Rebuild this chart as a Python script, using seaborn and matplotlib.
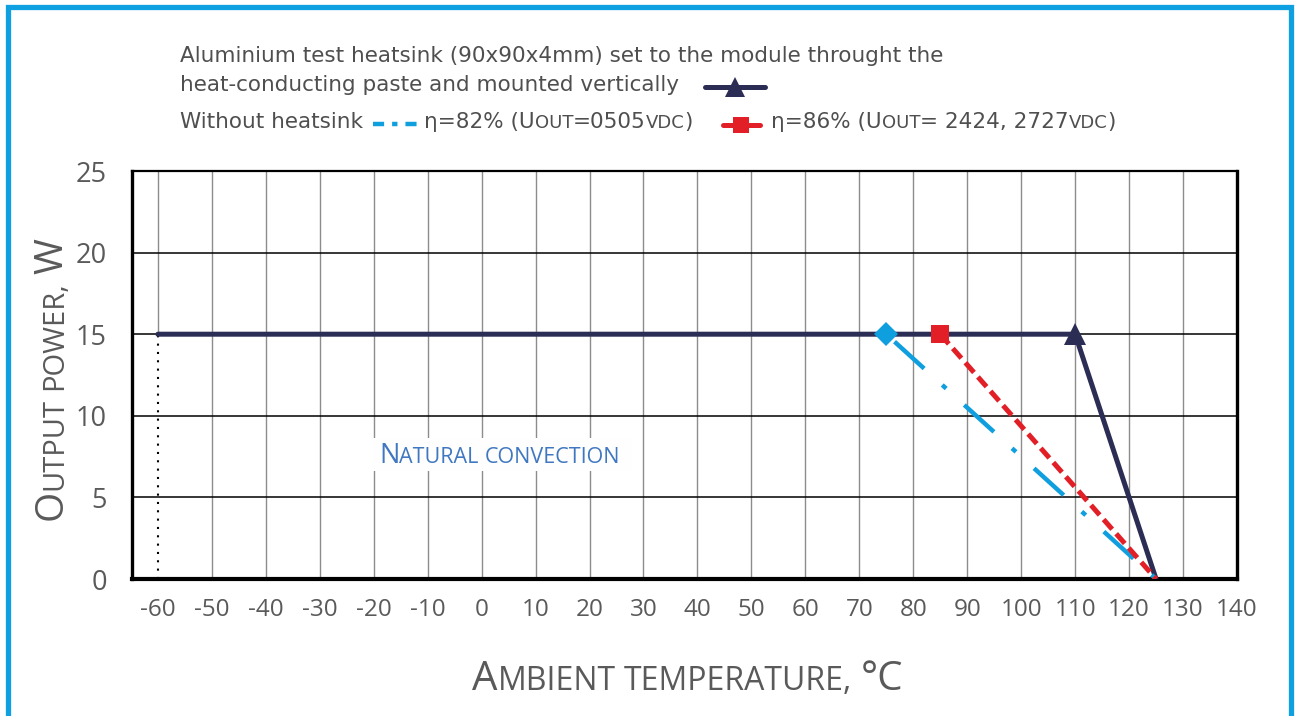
import seaborn as sns
import matplotlib.pyplot as plt
from matplotlib.lines import Line2D
from matplotlib.patches import Rectangle

# derating curves
temp_heatsink = [-60, 110, 125]     # aluminium heatsink, mounted vertically
power_heatsink = [15, 15, 0]
temp_eta82 = [75, 125]              # without heatsink, eta=82%
power_eta82 = [15, 0]
temp_eta86 = [85, 125]              # without heatsink, eta=86%
power_eta86 = [15, 0]

x_ticks = list(range(-60, 141, 10))
y_ticks = [0, 5, 10, 15, 20, 25]

sns.set_style('white')
plt.rcParams['font.family'] = ['Open Sans', 'DejaVu Sans']
plt.rcParams['axes.unicode_minus'] = False

W, H = 1295, 716
fig = plt.figure(figsize=(W / 100, H / 100), dpi=100)
ax = fig.add_axes([132 / W, 1 - 579 / H, (1237 - 132) / W, (579 - 171) / H])

navy, cyan, red = '#2c2d54', '#0f9fde', '#e21f26'
txt_grey = '#5a5a5a'

# grid (the -60 line is only drawn above the curve, dotted below it)
for t in x_ticks[1:-1]:
    ax.axvline(t, color='#8c8c8c', lw=1.0, zorder=1)
ax.vlines(x_ticks[0], power_heatsink[0], y_ticks[-1], color='#8c8c8c', lw=1.0, zorder=1)
for v in y_ticks[1:-1]:
    ax.axhline(v, color='black', lw=1.1, zorder=1)
ax.vlines(temp_heatsink[0], 0, power_heatsink[0], color='black', lw=1.5,
          linestyles=(0, (1, 3)), zorder=2)

sns.lineplot(x=temp_heatsink, y=power_heatsink, ax=ax, sort=False, estimator=None,
             color=navy, lw=3.6, marker='^', markersize=16, markevery=[1],
             markeredgecolor=navy, markeredgewidth=0, zorder=3)
sns.lineplot(x=temp_eta82, y=power_eta82, ax=ax, sort=False, estimator=None,
             color=cyan, lw=3.2, marker='D', markersize=12, markevery=[0],
             markeredgecolor=cyan, markeredgewidth=0, zorder=4)
ax.lines[-1].set_linestyle((-2.5, (9, 5.5, 1.2, 5.5)))
sns.lineplot(x=temp_eta86, y=power_eta86, ax=ax, sort=False, estimator=None,
             color=red, lw=3.6, marker='s', markersize=13, markevery=[0],
             markeredgecolor=red, markeredgewidth=0, zorder=5)
ax.lines[-1].set_linestyle((0, (2.6, 1.2)))

ax.set_xlim(-64.8, 140)
ax.set_ylim(0, 25)
ax.set_xticks(x_ticks)
ax.set_yticks(y_ticks)
ax.tick_params(axis='x', length=0, labelsize=17.5, colors=txt_grey, pad=14)
ax.tick_params(axis='y', length=0, labelsize=19.5, colors=txt_grey, pad=18)
ax.set_xlabel('')
ax.set_ylabel('')
for side, lw in [('left', 2.4), ('bottom', 3.0), ('right', 2.4), ('top', 1.6)]:
    ax.spines[side].set_visible(True)
    ax.spines[side].set_color('black')
    ax.spines[side].set_linewidth(lw)

renderer = fig.canvas.get_renderer()


def run(x, y, parts, rot=0, color=txt_grey, family=None):
    # lay out text pieces one after the other (fake small caps); x, y in pixels from top-left
    for s, size in parts:
        if s == ' ':
            step = 0.26 * size * 100 / 72
            if rot == 0:
                x += step
            else:
                y -= step
            continue
        t = fig.text(x / W, 1 - y / H, s, fontsize=size, rotation=rot, rotation_mode='anchor',
                     ha='left', va='baseline', color=color, zorder=6)
        if family:
            t.set_family(family)
        bb = t.get_window_extent(renderer)
        if rot == 0:
            x += bb.width
        else:
            y -= bb.height
    return x


# axis titles
run(62, 520, [('O', 28), ('UTPUT', 21), (' ', 21), ('POWER,', 21), (' ', 21), ('W', 28)], rot=90)
run(472, 690, [('A', 29), ('MBIENT', 23), (' ', 23), ('TEMPERATURE,', 23), (' ', 23), ('°C', 29)])

# label inside the plot
fig.add_artist(Rectangle((373 / W, 1 - 471 / H), 259 / W, 33 / H, transform=fig.transFigure,
                         facecolor='#fefefe', edgecolor='none', zorder=2))
run(379, 463, [('N', 19.5), ('ATURAL', 15.5), (' ', 15.5), ('CONVECTION', 15.5)], color='#3f78c0')

# legend text
leg = '#4f4f4f'
lf = ['DejaVu Sans']
fs, sc = 15.5, 13
run(180, 62, [('Aluminium test heatsink (90x90x4mm) set to the module throught the', fs)], color=leg, family=lf)
run(180, 91, [('heat-conducting paste and mounted vertically', fs)], color=leg, family=lf)
run(180, 128, [('Without heatsink', fs)], color=leg, family=lf)
run(424, 128, [('η=82% (U', fs), ('OUT', sc), ('=0505', fs), ('VDC', sc), (')', fs)],
    color=leg, family=lf)
run(771, 128, [('η=86% (U', fs), ('OUT', sc), ('= 2424, 2727', fs), ('VDC', sc), (')', fs)],
    color=leg, family=lf)

# legend samples
fig.add_artist(Line2D([705 / W, 735 / W, 765 / W], [1 - 87 / H] * 3, transform=fig.transFigure,
                      color=navy, lw=3.6, marker='^', markersize=15, markevery=[1],
                      markeredgewidth=0))
fig.add_artist(Line2D([373 / W, 417 / W], [1 - 124 / H] * 2, transform=fig.transFigure,
                      color=cyan, lw=3.2, linestyle=(0, (2.5, 1.8, 1.2, 1.8))))
fig.add_artist(Line2D([723 / W, 741 / W, 760 / W], [1 - 125 / H] * 3, transform=fig.transFigure,
                      color=red, lw=3.6, marker='s', markersize=11, markevery=[1],
                      markeredgewidth=0))

# blue frame round the picture
fig.add_artist(Rectangle((7.5 / W, -0.1), (1291 - 7.5) / W, 1.1 - 6.5 / H,
                         transform=fig.transFigure, fill=False, edgecolor='#0ea0e0', lw=3.8))

fig.savefig('out.png', dpi=100)
